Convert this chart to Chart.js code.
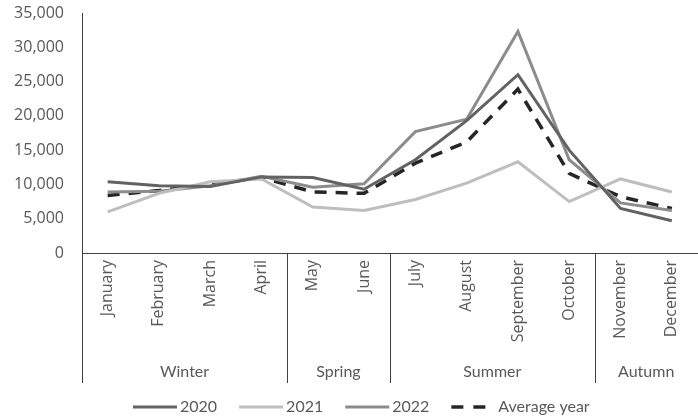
<!DOCTYPE html>
<html>
<head>
<meta charset="utf-8">
<script src="https://cdn.jsdelivr.net/npm/chart.js@4"></script>
<style>
  html, body { margin: 0; padding: 0; background: #ffffff; }
  #wrap { width: 698px; height: 418px; }
</style>
</head>
<body>
<div id="wrap"><canvas id="c" width="698" height="418"></canvas></div>
<script>
const months = ['January','February','March','April','May','June','July','August','September','October','November','December'];
const seasonNames = ['Winter','Spring','Summer','Autumn'];
const seasonSizes = [4, 2, 4, 2];
const series2020 = [10400, 9800, 9700, 11100, 11000, 9300, 13600, 19300, 26000, 15000, 6500, 4700];
const series2021 = [6000, 8700, 10400, 10800, 6700, 6200, 7800, 10200, 13300, 7500, 10800, 8900];
const series2022 = [8900, 9000, 9800, 11200, 9600, 10100, 17700, 19500, 32300, 13600, 7300, 6200];
const seriesAvg  = [8400, 9100, 10000, 11000, 8900, 8700, 13100, 16200, 23900, 11600, 8200, 6500];
const yTicks = [0, 5000, 10000, 15000, 20000, 25000, 30000, 35000];

const seasonPlugin = {
  id: 'seasons',
  afterDraw(chart) {
    const xs = chart.scales.x;
    const ctx = chart.ctx;
    const top = chart.chartArea.bottom;
    const lineBottom = 383;
    const labelY = 372;
    const half = (xs.getPixelForTick(1) - xs.getPixelForTick(0)) / 2;
    ctx.save();
    ctx.strokeStyle = '#404040';
    ctx.lineWidth = 1;
    ctx.fillStyle = '#595959';
    ctx.font = '16px Lato';
    ctx.textAlign = 'center';
    ctx.textBaseline = 'middle';
    let idx = 0;
    seasonNames.forEach((name, i) => {
      const start = xs.getPixelForTick(idx) - half;
      const end = xs.getPixelForTick(idx + seasonSizes[i] - 1) + half;
      const sx = Math.round(start) + 0.5;
      ctx.beginPath();
      ctx.moveTo(sx, top);
      ctx.lineTo(sx, lineBottom);
      ctx.stroke();
      ctx.fillText(name, (start + end) / 2, labelY);
      idx += seasonSizes[i];
    });

    // legend
    const ly = 407;
    let x = 133;
    ctx.textAlign = 'left';
    chart.data.datasets.forEach((ds) => {
      ctx.save();
      ctx.strokeStyle = ds.borderColor;
      ctx.lineWidth = ds.borderWidth;
      ctx.setLineDash(ds.borderDash && ds.borderDash.length ? [12, 10] : []);
      ctx.beginPath();
      ctx.moveTo(x, ly);
      ctx.lineTo(x + 44, ly);
      ctx.stroke();
      ctx.restore();
      x += 47;
      ctx.fillStyle = '#595959';
      ctx.fillText(ds.label, x, ly);
      x += ctx.measureText(ds.label).width + 22;
    });
    ctx.restore();
  }
};

const lineDs = (label, data, color, width, dash) => ({
  label, data,
  borderColor: color,
  backgroundColor: color,
  borderWidth: width,
  borderDash: dash || [],
  pointRadius: 0,
  pointHoverRadius: 0,
  tension: 0,
  fill: false
});

new Chart(document.getElementById('c'), {
  type: 'line',
  data: {
    labels: months,
    datasets: [
      lineDs('2020', series2020, '#626262', 3),
      lineDs('2021', series2021, '#bebebe', 3),
      lineDs('2022', series2022, '#8c8c8c', 3),
      lineDs('Average year', seriesAvg, '#262626', 3.5, [12, 9])
    ]
  },
  options: {
    responsive: false,
    animation: false,
    devicePixelRatio: 1,
    layout: { padding: { top: 13, right: 0, left: 0, bottom: 0 } },
    plugins: {
      tooltip: { enabled: false },
      legend: { display: false }
    },
    scales: {
      x: {
        type: 'category',
        offset: true,
        grid: { display: false, drawTicks: false },
        border: { display: true, color: '#404040', width: 1 },
        ticks: {
          autoSkip: false,
          minRotation: 90,
          maxRotation: 90,
          padding: 7,
          color: '#595959',
          font: { family: 'Open Sans', size: 16 }
        },
        afterFit(scale) { scale.height = 165; }
      },
      y: {
        min: 0,
        max: 35000,
        afterBuildTicks(scale) { scale.ticks = yTicks.map(v => ({ value: v })); },
        grid: { display: false, drawTicks: true, tickLength: 18 },
        border: { display: true, color: '#404040', width: 1 },
        ticks: {
          padding: 0,
          color: '#595959',
          font: { family: 'Open Sans', size: 16 },
          callback: (v) => Number(v).toLocaleString('en-US')
        },
        afterFit(scale) { scale.width = 82; }
      }
    }
  },
  plugins: [seasonPlugin]
});
</script>
</body>
</html>
